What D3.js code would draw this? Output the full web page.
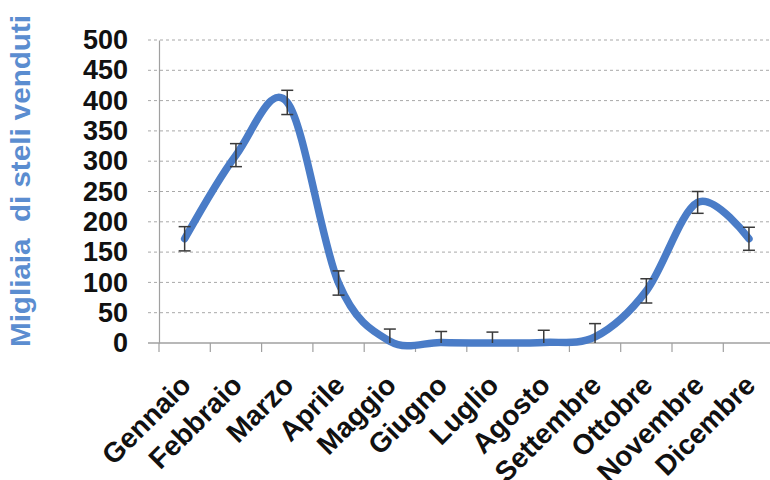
<!DOCTYPE html>
<html>
<head>
<meta charset="utf-8">
<script src="https://cdn.jsdelivr.net/npm/d3@7"></script>
<style>
  body { margin: 0; background: #fff; }
  svg { display: block; font-family: "Liberation Sans", Arial, sans-serif; }
</style>
</head>
<body>
<svg id="chart" width="770" height="480"></svg>
<script>
// ── Data ───────────────────────────────────────────────────────────────────
const MONTHS = ["Gennaio", "Febbraio", "Marzo", "Aprile", "Maggio", "Giugno",
                "Luglio", "Agosto", "Settembre", "Ottobre", "Novembre", "Dicembre"];
const VALUES = [172, 310, 397, 99, 3, 1, 0, 1, 10, 86, 232, 172];
const ERRORS = [20, 19, 20, 20, 20, 18, 18, 20, 22, 20, 18, 19];
const Y_TICKS = [0, 50, 100, 150, 200, 250, 300, 350, 400, 450, 500];
const Y_LABEL = "Migliaia\u00a0\u00a0di steli venduti";

const LINE_COLOR = "#4a7cc7";
const LABEL_COLOR = "#5b8dd0";

// ── Layout ─────────────────────────────────────────────────────────────────
const plot = { left: 159, top: 40, bottom: 343, band: 51.3 };

const svg = d3.select("#chart");

const x = d3.scaleBand()
    .domain(MONTHS)
    .range([plot.left, plot.left + plot.band * MONTHS.length]);
const y = d3.scaleLinear().domain([0, 500]).range([plot.bottom, plot.top]);

const cx = m => x(m) + x.bandwidth() / 2;

// Gridlines (dashed), skip 0
svg.append("g").selectAll("line")
    .data(Y_TICKS.filter(d => d > 0)).join("line")
    .attr("x1", 148).attr("x2", 770)
    .attr("y1", d => y(d)).attr("y2", d => y(d))
    .attr("stroke", "#a8a8a8").attr("stroke-width", 1)
    .attr("stroke-dasharray", "3,3");

// Y axis
const yAxis = svg.append("g")
    .attr("transform", `translate(${plot.left},0)`)
    .call(d3.axisLeft(y).tickValues(Y_TICKS).tickSize(0).tickPadding(31));
yAxis.select(".domain").attr("stroke", "#a0a0a0").attr("stroke-width", 1.2);
yAxis.selectAll("text")
    .attr("font-size", 27).attr("font-weight", "bold").attr("fill", "#111");

// X axis
const xAxis = svg.append("g")
    .attr("transform", `translate(0,${plot.bottom})`)
    .call(d3.axisBottom(x).tickSize(0).tickFormat(""));
xAxis.select(".domain").remove();
svg.append("line")
    .attr("x1", 148).attr("x2", 770)
    .attr("y1", y(0)).attr("y2", y(0))
    .attr("stroke", "#a0a0a0").attr("stroke-width", 1.5);
// tick marks at band edges
svg.append("g").selectAll("line")
    .data(MONTHS.concat(["_end"])).join("line")
    .attr("x1", (d, i) => plot.left + i * x.bandwidth())
    .attr("x2", (d, i) => plot.left + i * x.bandwidth())
    .attr("y1", y(0)).attr("y2", y(0) + 9)
    .attr("stroke", "#a0a0a0").attr("stroke-width", 1.2);

// Category labels, rotated
svg.append("g").selectAll("text")
    .data(MONTHS).join("text")
    .attr("transform", d => `translate(${cx(d) + 8},${plot.bottom + 44}) rotate(-45)`)
    .attr("text-anchor", "end")
    .attr("font-size", 28).attr("font-weight", "bold").attr("fill", "#111")
    .text(d => d);

// Y axis title
svg.append("text")
    .attr("transform", `translate(30,181) rotate(-90)`)
    .attr("text-anchor", "middle")
    .attr("font-size", 27).attr("font-weight", "bold").attr("fill", LABEL_COLOR)
    .attr("textLength", 332).attr("lengthAdjust", "spacingAndGlyphs")
    .text(Y_LABEL);

// Smoothed line
const pts = MONTHS.map((m, i) => ({ m, v: VALUES[i], e: ERRORS[i] }));
const line = d3.line()
    .x(d => cx(d.m))
    .y(d => y(d.v))
    .curve(d3.curveCardinal.tension(0));

svg.append("path")
    .datum(pts)
    .attr("fill", "none")
    .attr("stroke", LINE_COLOR)
    .attr("stroke-width", 7.5)
    .attr("stroke-linecap", "round")
    .attr("d", line);

// Error bars (clamped at zero)
const eb = svg.append("g").attr("stroke", "#3a3a3a").attr("stroke-width", 1.5);
pts.forEach(d => {
    const hi = d.v + d.e, lo = Math.max(0, d.v - d.e);
    const px = cx(d.m);
    eb.append("line").attr("x1", px).attr("x2", px).attr("y1", y(hi)).attr("y2", y(lo));
    eb.append("line").attr("x1", px - 6).attr("x2", px + 6).attr("y1", y(hi)).attr("y2", y(hi));
    if (lo > 0) {
        eb.append("line").attr("x1", px - 6).attr("x2", px + 6).attr("y1", y(lo)).attr("y2", y(lo));
    }
});
</script>
</body>
</html>
